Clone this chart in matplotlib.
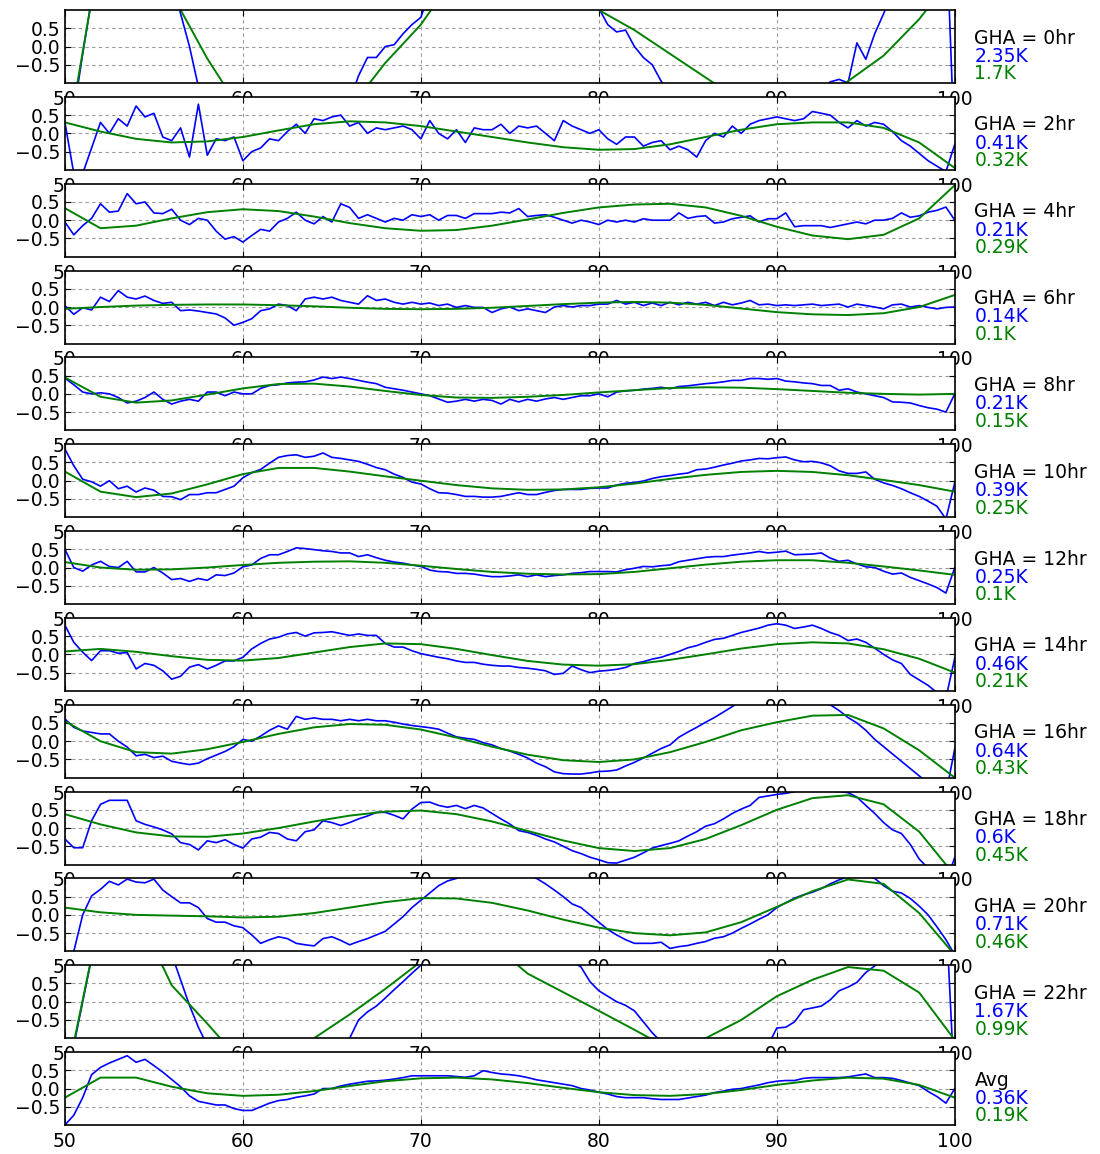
import numpy as np
import matplotlib
matplotlib.use('Agg')
import matplotlib.pyplot as plt

# residuals sampled every 0.5 MHz (50..100), fits every 2 MHz
res_00 = [-3.0, -1.8, -0.2, 1.3, 2.5, 3.0, 3.5, 3.5, 3.5, 3.2,
          3.0, 2.5, 1.8, 0.9, 0.0, -1.1, -2.0, -2.5, -3.0, -3.2,
          -3.5, -3.5, -3.5, -3.5, -3.4, -3.3, -3.2, -3.0, -2.8, -2.5,
          -2.2, -1.8, -1.5, -0.8, -0.3, -0.3, 0.0, 0.05, 0.35, 0.6,
          0.8, 1.5, 2.0, 2.5, 3.0, 3.2, 3.4, 3.5, 3.5, 3.5,
          3.4, 3.2, 3.0, 2.8, 2.5, 2.2, 2.0, 1.8, 1.5, 1.3,
          1.05, 0.6, 0.4, 0.45, 0.0, -0.3, -0.5, -0.95, -1.3, -1.6,
          -2.0, -2.3, -2.5, -2.7, -2.8, -2.8, -2.8, -2.7, -2.5, -2.3,
          -2.0, -1.8, -1.6, -1.5, -1.4, -1.2, -0.97, -0.9, -1.0, 0.1,
          -0.35, 0.35, 0.9, 1.5, 2.0, 2.5, 3.0, 3.3, 3.5, 3.5,
          -3.0]
fit_00 = [-3.0, 2.7, 3.5, 1.45, -0.33, -1.85, -2.8, -2.6, -1.7, -0.45, 0.6, 2.0, 2.6,
          2.7, 2.2, 1.0, 0.45, -0.2, -0.85, -1.5, -2.0, -1.8, -0.95, -0.25, 0.75, 2.0]

res_02 = [0.3, -1.1, -1.1, -0.4, 0.3, 0.0, 0.4, 0.2, 0.75, 0.45,
          0.55, -0.1, -0.2, 0.15, -0.65, 0.8, -0.6, -0.15, -0.2, -0.1,
          -0.75, -0.5, -0.4, -0.15, -0.2, 0.05, 0.25, 0.0, 0.4, 0.35,
          0.45, 0.5, 0.2, 0.3, 0.0, 0.15, 0.1, 0.15, 0.2, 0.1,
          -0.15, 0.35, 0.0, -0.15, 0.1, -0.25, 0.15, 0.1, 0.1, 0.25,
          0.0, 0.2, 0.15, 0.2, 0.0, -0.2, 0.35, 0.2, 0.1, 0.0,
          0.1, -0.15, -0.3, -0.1, -0.1, -0.35, -0.25, -0.2, -0.45, -0.35,
          -0.45, -0.65, -0.2, 0.0, -0.1, 0.2, 0.0, 0.25, 0.35, 0.4,
          0.45, 0.4, 0.35, 0.4, 0.6, 0.55, 0.5, 0.3, 0.15, 0.35,
          0.2, 0.3, 0.25, 0.05, -0.2, -0.35, -0.55, -0.75, -0.9, -1.05,
          -0.3]
fit_02 = [0.3, 0.05, -0.15, -0.25, -0.22, -0.1, 0.08, 0.25, 0.33, 0.3, 0.2, 0.05, -0.1,
          -0.25, -0.38, -0.45, -0.43, -0.3, -0.1, 0.1, 0.25, 0.3, 0.3, 0.15, -0.25, -0.95]

res_04 = [-0.05, -0.4, -0.15, 0.05, 0.45, 0.22, 0.25, 0.73, 0.45, 0.5,
          0.2, 0.18, 0.3, 0.0, -0.12, 0.05, 0.0, -0.3, -0.52, -0.45,
          -0.6, -0.42, -0.25, -0.3, -0.05, 0.05, 0.22, 0.0, -0.1, 0.1,
          -0.05, 0.45, 0.35, 0.05, 0.15, 0.05, -0.05, 0.05, 0.0, 0.15,
          0.1, 0.15, 0.0, 0.13, 0.13, 0.05, 0.18, 0.18, 0.18, 0.22,
          0.2, 0.32, 0.1, 0.13, 0.15, 0.08, 0.0, -0.08, 0.0, -0.05,
          -0.12, 0.0, -0.05, 0.0, -0.05, 0.04, 0.0, 0.0, 0.0, 0.2,
          0.05, 0.1, 0.12, -0.08, -0.05, 0.04, 0.08, 0.12, -0.05, 0.04,
          0.04, 0.2, -0.18, -0.15, -0.15, -0.15, -0.2, -0.15, -0.1, -0.05,
          -0.1, 0.0, 0.0, 0.05, 0.2, 0.08, 0.12, 0.22, 0.27, 0.36,
          0.0]
fit_04 = [0.33, -0.22, -0.15, 0.05, 0.22, 0.3, 0.25, 0.1, -0.08, -0.22, -0.29, -0.27, -0.15,
          0.02, 0.2, 0.35, 0.43, 0.45, 0.35, 0.12, -0.18, -0.42, -0.52, -0.4, 0.05, 0.96]

res_06 = [0.04, -0.2, -0.02, -0.08, 0.27, 0.15, 0.45, 0.27, 0.22, 0.3,
          0.18, 0.1, 0.13, -0.1, -0.08, -0.11, -0.15, -0.19, -0.3, -0.5,
          -0.42, -0.32, -0.1, -0.05, 0.08, 0.04, -0.1, 0.22, 0.27, 0.22,
          0.27, 0.18, 0.13, 0.08, 0.31, 0.18, 0.22, 0.13, 0.08, 0.13,
          0.08, 0.11, 0.04, 0.08, -0.01, 0.04, -0.01, -0.01, -0.15, -0.05,
          0.0, -0.1, -0.05, -0.1, -0.15, 0.0, 0.04, 0.0, 0.04, 0.04,
          0.08, 0.08, 0.18, 0.08, 0.13, 0.04, 0.11, 0.04, 0.13, 0.06,
          0.13, 0.08, 0.13, 0.04, 0.13, 0.06, 0.11, 0.18, 0.06, 0.08,
          0.04, 0.06, 0.04, 0.06, 0.08, 0.04, 0.06, 0.08, 0.0, 0.08,
          0.04, 0.0, -0.05, 0.06, 0.08, 0.0, 0.04, -0.01, -0.05, -0.01,
          0.0]
fit_06 = [-0.05, 0.0, 0.04, 0.06, 0.07, 0.07, 0.05, 0.02, -0.02, -0.05, -0.06, -0.05, -0.02,
          0.03, 0.08, 0.12, 0.14, 0.12, 0.06, -0.04, -0.14, -0.2, -0.22, -0.17, 0.0, 0.33]

res_08 = [0.43, 0.25, 0.05, 0.0, 0.03, 0.0, -0.1, -0.25, -0.2, -0.1,
          0.05, -0.15, -0.28, -0.2, -0.15, -0.2, 0.05, 0.05, -0.05, 0.05,
          0.0, 0.0, 0.15, 0.23, 0.25, 0.3, 0.32, 0.33, 0.38, 0.46,
          0.42, 0.46, 0.42, 0.37, 0.32, 0.28, 0.18, 0.14, 0.1, 0.05,
          0.0, -0.05, -0.14, -0.23, -0.2, -0.15, -0.2, -0.15, -0.18, -0.28,
          -0.15, -0.22, -0.15, -0.2, -0.14, -0.1, -0.15, -0.1, -0.05, -0.05,
          0.0, -0.08, 0.05, 0.08, 0.1, 0.13, 0.15, 0.18, 0.14, 0.2,
          0.22, 0.25, 0.28, 0.3, 0.33, 0.37, 0.37, 0.42, 0.42, 0.4,
          0.42, 0.35, 0.33, 0.3, 0.28, 0.23, 0.23, 0.1, 0.14, 0.05,
          0.0, -0.05, -0.1, -0.22, -0.23, -0.25, -0.32, -0.38, -0.42, -0.5,
          0.0]
fit_08 = [0.45, -0.08, -0.24, -0.18, -0.02, 0.15, 0.27, 0.28, 0.2, 0.08, -0.03, -0.1, -0.11,
          -0.08, -0.03, 0.04, 0.1, 0.16, 0.18, 0.17, 0.13, 0.08, 0.03, 0.0, -0.02, 0.0]

res_10 = [0.87, 0.41, 0.04, -0.03, -0.15, 0.0, -0.22, -0.15, -0.31, -0.2,
          -0.26, -0.43, -0.44, -0.52, -0.38, -0.38, -0.33, -0.33, -0.24, -0.15,
          0.08, 0.22, 0.31, 0.48, 0.64, 0.69, 0.71, 0.64, 0.67, 0.76,
          0.64, 0.61, 0.57, 0.53, 0.45, 0.36, 0.3, 0.18, 0.09, -0.04,
          -0.09, -0.22, -0.33, -0.34, -0.38, -0.43, -0.43, -0.45, -0.45, -0.43,
          -0.38, -0.33, -0.38, -0.38, -0.32, -0.27, -0.24, -0.24, -0.24, -0.21,
          -0.2, -0.2, -0.12, -0.07, -0.05, -0.01, 0.06, 0.11, 0.14, 0.18,
          0.21, 0.3, 0.32, 0.37, 0.43, 0.48, 0.54, 0.57, 0.61, 0.6,
          0.63, 0.65, 0.57, 0.52, 0.53, 0.49, 0.41, 0.27, 0.2, 0.2,
          0.24, 0.04, -0.06, -0.13, -0.22, -0.33, -0.43, -0.56, -0.7, -1.05,
          -0.05]
fit_10 = [0.25, -0.3, -0.45, -0.35, -0.1, 0.18, 0.35, 0.35, 0.25, 0.12, 0.0, -0.12, -0.21,
          -0.25, -0.24, -0.18, -0.08, 0.05, 0.16, 0.24, 0.27, 0.24, 0.15, 0.02, -0.12, -0.3]

res_12 = [0.5, 0.0, -0.1, 0.07, 0.17, 0.03, 0.0, 0.17, -0.12, -0.12,
          0.0, -0.15, -0.33, -0.3, -0.38, -0.3, -0.35, -0.2, -0.22, -0.15,
          0.02, 0.07, 0.25, 0.35, 0.35, 0.44, 0.54, 0.52, 0.49, 0.46,
          0.44, 0.4, 0.4, 0.3, 0.35, 0.27, 0.2, 0.15, 0.12, 0.07,
          0.03, -0.07, -0.11, -0.12, -0.16, -0.16, -0.18, -0.22, -0.25, -0.25,
          -0.23, -0.2, -0.25, -0.2, -0.25, -0.22, -0.2, -0.16, -0.14, -0.11,
          -0.11, -0.11, -0.12, -0.06, -0.02, 0.03, 0.02, 0.05, 0.07, 0.16,
          0.2, 0.24, 0.28, 0.3, 0.3, 0.34, 0.37, 0.4, 0.44, 0.4,
          0.42, 0.45, 0.35, 0.36, 0.37, 0.4, 0.26, 0.17, 0.2, 0.1,
          0.02, 0.0, -0.1, -0.18, -0.15, -0.27, -0.36, -0.45, -0.55, -0.7,
          0.0]
fit_12 = [0.15, 0.0, -0.06, -0.05, 0.0, 0.07, 0.13, 0.16, 0.17, 0.13, 0.05, -0.04, -0.12,
          -0.17, -0.19, -0.18, -0.12, -0.02, 0.08, 0.16, 0.2, 0.2, 0.13, 0.03, -0.08, -0.2]

res_14 = [0.8, 0.33, 0.06, -0.17, 0.1, 0.1, 0.03, 0.05, -0.4, -0.25,
          -0.3, -0.45, -0.68, -0.6, -0.35, -0.28, -0.4, -0.3, -0.18, -0.18,
          -0.08, 0.15, 0.3, 0.42, 0.47, 0.56, 0.6, 0.5, 0.59, 0.6,
          0.62, 0.57, 0.52, 0.56, 0.52, 0.52, 0.3, 0.2, 0.2, 0.1,
          0.02, -0.03, -0.08, -0.12, -0.18, -0.22, -0.22, -0.27, -0.3, -0.32,
          -0.32, -0.36, -0.38, -0.41, -0.45, -0.55, -0.52, -0.32, -0.42, -0.5,
          -0.46, -0.44, -0.41, -0.36, -0.25, -0.2, -0.13, -0.08, 0.0, 0.08,
          0.18, 0.24, 0.33, 0.41, 0.44, 0.52, 0.6, 0.66, 0.72, 0.8,
          0.84, 0.8, 0.71, 0.75, 0.8, 0.71, 0.6, 0.52, 0.38, 0.42,
          0.33, 0.17, 0.0, -0.15, -0.25, -0.55, -0.7, -0.85, -1.05, -1.2,
          -0.1]
fit_14 = [0.08, 0.15, 0.07, -0.05, -0.15, -0.17, -0.1, 0.05, 0.2, 0.3, 0.28, 0.15, -0.02,
          -0.18, -0.28, -0.31, -0.27, -0.15, 0.0, 0.16, 0.28, 0.33, 0.3, 0.14, -0.12, -0.5]

res_16 = [0.61, 0.38, 0.28, 0.24, 0.2, 0.2, 0.0, -0.16, -0.4, -0.36,
          -0.45, -0.41, -0.55, -0.6, -0.64, -0.6, -0.48, -0.38, -0.28, -0.15,
          0.05, 0.0, 0.14, 0.3, 0.42, 0.33, 0.68, 0.6, 0.64, 0.6,
          0.6, 0.56, 0.6, 0.56, 0.6, 0.56, 0.56, 0.52, 0.47, 0.43,
          0.4, 0.37, 0.33, 0.22, 0.12, 0.08, 0.05, -0.04, -0.1, -0.2,
          -0.27, -0.36, -0.46, -0.6, -0.7, -0.84, -0.89, -0.9, -0.9, -0.87,
          -0.83, -0.82, -0.79, -0.68, -0.58, -0.46, -0.33, -0.2, -0.1, 0.11,
          0.25, 0.38, 0.52, 0.65, 0.8, 0.95, 1.1, 1.2, 1.3, 1.3,
          1.35, 1.35, 1.3, 1.25, 1.2, 1.1, 1.0, 0.84, 0.65, 0.5,
          0.3, 0.05, -0.15, -0.35, -0.55, -0.75, -0.95, -1.15, -1.3, -1.45,
          -0.2]
fit_16 = [0.55, 0.0, -0.3, -0.34, -0.22, -0.02, 0.2, 0.38, 0.47, 0.45, 0.32, 0.1, -0.15,
          -0.37, -0.52, -0.57, -0.5, -0.3, -0.02, 0.3, 0.52, 0.7, 0.72, 0.35, -0.25, -1.0]

res_18 = [-0.3, -0.54, -0.54, 0.2, 0.65, 0.76, 0.76, 0.76, 0.2, 0.1,
          0.03, -0.05, -0.16, -0.4, -0.45, -0.6, -0.35, -0.4, -0.32, -0.45,
          -0.55, -0.3, -0.25, -0.12, -0.15, -0.3, -0.35, -0.1, -0.05, 0.2,
          0.15, 0.07, 0.15, 0.25, 0.33, 0.43, 0.43, 0.35, 0.25, 0.52,
          0.7, 0.71, 0.62, 0.57, 0.62, 0.53, 0.62, 0.55, 0.4, 0.25,
          0.11, -0.07, -0.12, -0.2, -0.3, -0.38, -0.5, -0.62, -0.7, -0.8,
          -0.87, -0.95, -0.96, -0.88, -0.8, -0.68, -0.55, -0.48, -0.42, -0.35,
          -0.22, -0.1, 0.05, 0.12, 0.25, 0.4, 0.52, 0.62, 0.84, 0.88,
          0.92, 0.95, 1.0, 1.05, 1.05, 1.05, 1.02, 1.0, 0.97, 0.85,
          0.62, 0.4, 0.15, -0.05, -0.15, -0.45, -0.85, -1.1, -1.3, -1.5,
          -0.8]
fit_18 = [0.38, 0.1, -0.12, -0.23, -0.24, -0.15, 0.0, 0.18, 0.34, 0.45, 0.48, 0.38, 0.18,
          -0.08, -0.34, -0.55, -0.63, -0.55, -0.3, 0.08, 0.5, 0.82, 0.9, 0.65, -0.1, -1.3]

res_20 = [-1.5, -1.0, 0.0, 0.52, 0.7, 0.92, 0.82, 0.98, 0.9, 0.88,
          0.98, 0.68, 0.5, 0.33, 0.33, 0.2, -0.1, -0.2, -0.2, -0.3,
          -0.35, -0.55, -0.78, -0.68, -0.6, -0.65, -0.78, -0.82, -0.85, -0.65,
          -0.6, -0.7, -0.82, -0.73, -0.65, -0.55, -0.45, -0.25, -0.05, 0.2,
          0.4, 0.6, 0.8, 0.93, 1.0, 1.1, 1.2, 1.25, 1.3, 1.3,
          1.25, 1.2, 1.1, 1.0, 0.85, 0.68, 0.5, 0.3, 0.2, 0.0,
          -0.2, -0.4, -0.55, -0.68, -0.78, -0.78, -0.78, -0.75, -0.92, -0.87,
          -0.84, -0.78, -0.73, -0.64, -0.6, -0.5, -0.37, -0.25, -0.12, 0.0,
          0.2, 0.33, 0.46, 0.55, 0.62, 0.72, 0.85, 0.96, 1.05, 1.1,
          1.1, 1.0, 0.8, 0.65, 0.6, 0.45, 0.24, 0.0, -0.33, -0.68,
          -1.1]
fit_20 = [0.2, 0.07, 0.0, -0.02, -0.04, -0.07, -0.05, 0.05, 0.2, 0.35, 0.46, 0.45, 0.33,
          0.12, -0.13, -0.35, -0.5, -0.56, -0.48, -0.2, 0.22, 0.65, 0.97, 0.85, 0.05, -1.1]

res_22 = [-2.5, -1.2, 0.0, 1.2, 2.0, 2.5, 3.0, 3.0, 3.0, 2.8,
          2.5, 2.0, 1.3, 0.6, -0.1, -0.7, -1.2, -2.0, -2.5, -3.0,
          -3.0, -3.0, -3.0, -3.0, -3.0, -2.8, -2.5, -2.2, -2.0, -1.8,
          -1.5, -1.3, -1.0, -0.5, -0.28, -0.12, 0.1, 0.33, 0.55, 0.78,
          1.0, 1.5, 2.0, 2.5, 2.8, 3.0, 3.0, 3.0, 2.8, 2.5,
          2.2, 2.0, 1.8, 1.6, 1.4, 1.3, 1.2, 1.1, 0.95, 0.55,
          0.3, 0.15, 0.0, -0.1, -0.25, -0.55, -0.85, -1.1, -1.5, -2.0,
          -2.5, -3.0, -3.0, -3.0, -3.0, -3.0, -2.5, -2.0, -1.5, -1.2,
          -0.72, -0.7, -0.55, -0.22, -0.17, -0.12, 0.05, 0.3, 0.4, 0.53,
          0.8, 0.98, 1.3, 1.6, 2.0, 2.3, 2.5, 2.5, 2.5, 2.5,
          -2.5]
fit_22 = [-2.3, 2.4, 2.5, 0.45, -0.6, -1.7, -2.3, -1.0, -0.35, 0.35, 1.1, 1.8, 1.6,
          0.77, 0.26, -0.25, -0.77, -1.3, -1.0, -0.5, 0.15, 0.6, 0.95, 0.85, 0.25, -1.05]

res_avg = [-1.0, -0.73, -0.25, 0.38, 0.58, 0.7, 0.8, 0.9, 0.72, 0.8,
           0.63, 0.45, 0.25, 0.05, -0.2, -0.35, -0.4, -0.45, -0.45, -0.55,
           -0.6, -0.6, -0.5, -0.4, -0.33, -0.3, -0.24, -0.2, -0.15, 0.0,
           0.0, 0.07, 0.12, 0.16, 0.2, 0.21, 0.23, 0.26, 0.3, 0.35,
           0.35, 0.35, 0.35, 0.35, 0.33, 0.31, 0.35, 0.49, 0.44, 0.4,
           0.38, 0.35, 0.3, 0.24, 0.2, 0.16, 0.12, 0.08, 0.0, -0.04,
           -0.1, -0.15, -0.22, -0.25, -0.25, -0.25, -0.28, -0.3, -0.3, -0.3,
           -0.26, -0.22, -0.18, -0.11, -0.07, -0.02, 0.0, 0.05, 0.1, 0.16,
           0.2, 0.22, 0.22, 0.28, 0.3, 0.3, 0.3, 0.3, 0.32, 0.36,
           0.4, 0.3, 0.3, 0.28, 0.22, 0.15, 0.08, -0.08, -0.22, -0.4,
           0.0]
fit_avg = [-0.25, 0.3, 0.3, 0.05, -0.13, -0.2, -0.17, -0.07, 0.07, 0.2, 0.28, 0.3, 0.25,
           0.15, 0.02, -0.1, -0.18, -0.2, -0.15, -0.04, 0.1, 0.22, 0.3, 0.27, 0.1, -0.25]

gha_labels = ['GHA = 0hr', 'GHA = 2hr', 'GHA = 4hr', 'GHA = 6hr', 'GHA = 8hr',
              'GHA = 10hr', 'GHA = 12hr', 'GHA = 14hr', 'GHA = 16hr', 'GHA = 18hr',
              'GHA = 20hr', 'GHA = 22hr', 'Avg']
rms_res = ['2.35K', '0.41K', '0.21K', '0.14K', '0.21K', '0.39K', '0.25K',
           '0.46K', '0.64K', '0.6K', '0.71K', '1.67K', '0.36K']
rms_fit = ['1.7K', '0.32K', '0.29K', '0.1K', '0.15K', '0.25K', '0.1K',
           '0.21K', '0.43K', '0.45K', '0.46K', '0.99K', '0.19K']

residuals = [res_00, res_02, res_04, res_06, res_08, res_10, res_12,
             res_14, res_16, res_18, res_20, res_22, res_avg]
fits = [fit_00, fit_02, fit_04, fit_06, fit_08, fit_10, fit_12,
        fit_14, fit_16, fit_18, fit_20, fit_22, fit_avg]

fig, axes = plt.subplots(13, 1, figsize=(11, 11.54), dpi=100)
fig.subplots_adjust(left=0.059, right=0.868, top=0.9913, bottom=0.0251, hspace=0.19)

for ax, res, fit, lab, r1, r2 in zip(axes, residuals, fits, gha_labels, rms_res, rms_fit):
    f_res = np.linspace(50, 100, len(res))
    f_fit = np.linspace(50, 100, len(fit))
    ax.plot(f_res, res, color='b', lw=1.2)
    ax.plot(f_fit, fit, color='g', lw=1.4)
    ax.set_xlim(50, 100)
    ax.set_ylim(-1, 1)
    ax.set_xticks(range(50, 101, 10))
    ax.set_yticks([-0.5, 0.0, 0.5])
    ax.grid(True, color='0.6', linestyle='--', dashes=(3, 3), linewidth=0.8)
    ax.tick_params(direction='in', top=True, right=True, labelsize=13.5, length=4)
    ax.tick_params(axis='x', pad=5)
    ax.tick_params(axis='y', pad=3)
    for sp in ax.spines.values():
        sp.set_linewidth(1.2)
    ax.text(1.022, 0.615, lab, transform=ax.transAxes, va='center', ha='left',
            fontsize=13.5, color='k')
    ax.text(1.022, 0.365, r1, transform=ax.transAxes, va='center', ha='left',
            fontsize=13.5, color='b')
    ax.text(1.022, 0.125, r2, transform=ax.transAxes, va='center', ha='left',
            fontsize=13.5, color='g')

fig.savefig('out.png')
